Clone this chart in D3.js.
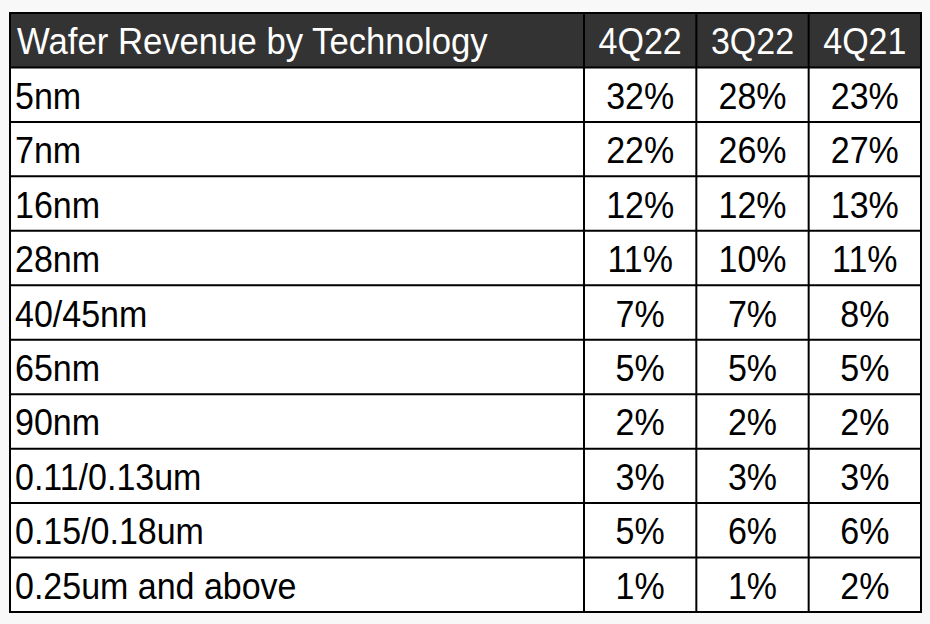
<!DOCTYPE html>
<html><head><meta charset="utf-8">
<script src="https://cdn.jsdelivr.net/npm/d3@7"></script>
<style>html,body{margin:0;padding:0;background:#f8f8f8;}svg{display:block;}</style>
</head><body><svg id="c" width="930" height="624"></svg>
<script>
const title = "Wafer Revenue by Technology";
const quarters = ["4Q22", "3Q22", "4Q21"];
const technologies = ["5nm","7nm","16nm","28nm","40/45nm","65nm","90nm","0.11/0.13um","0.15/0.18um","0.25um and above"];
const q4_22 = [32,22,12,11,7,5,2,3,5,1];
const q3_22 = [28,26,12,10,7,5,2,3,6,1];
const q4_21 = [23,27,13,11,8,5,2,3,6,2];
const series = [q4_22, q3_22, q4_21];

(function(){
const svg = d3.select("#c");
const L = 10, R = 921, T = 13, B = 612, labelW = 574;
const rows = ["__header__"].concat(technologies);
const y = d3.scaleBand().domain(rows).range([T, B]);
const xc = d3.scaleBand().domain(quarters).range([L + labelW, R]);
const font = "'Liberation Sans', Arial, Helvetica, sans-serif";
const fs = 34, fsT = 34.7, sy = 1.06, off = 14;
const tf = (x, yy) => `translate(${x},${yy}) scale(1,${sy})`;

svg.append("rect").attr("x", L).attr("y", y("__header__")).attr("width", R-L).attr("height", y.bandwidth()).attr("fill", "#333333");
svg.append("rect").attr("x", L).attr("y", y(technologies[0])).attr("width", R-L).attr("height", B - y(technologies[0])).attr("fill", "#ffffff");

const hy = y("__header__") + y.bandwidth()/2 + off;
svg.append("text").attr("transform", tf(L + 7, hy))
  .attr("font-family", font).attr("font-size", fsT).attr("fill", "#fff").text(title);
svg.selectAll("text.hq").data(quarters).join("text").attr("class","hq")
  .attr("transform", d => tf(xc(d) + xc.bandwidth()/2, hy))
  .attr("text-anchor","middle").attr("font-family", font).attr("font-size", fs).attr("fill","#fff").text(d => d);

svg.selectAll("text.lab").data(technologies).join("text").attr("class","lab")
  .attr("transform", d => tf(L + 5, y(d) + y.bandwidth()/2 + off))
  .attr("font-family", font).attr("font-size", fs).attr("fill","#000").text(d => d);

quarters.forEach((q, qi) => {
  svg.selectAll("text.v"+qi).data(technologies).join("text").attr("class","v"+qi)
    .attr("transform", d => tf(xc(q) + xc.bandwidth()/2, y(d) + y.bandwidth()/2 + off))
    .attr("text-anchor","middle").attr("font-family", font).attr("font-size", fs).attr("fill","#000")
    .text((d,i) => series[qi][i] + "%");
});

svg.selectAll("line.h").data(technologies).join("line").attr("class","h")
  .attr("x1", L).attr("x2", R).attr("y1", d => y(d)).attr("y2", d => y(d))
  .attr("stroke", "#000").attr("stroke-width", 2);
svg.selectAll("line.vv").data(quarters).join("line").attr("class","vv")
  .attr("x1", d => xc(d)).attr("x2", d => xc(d)).attr("y1", T).attr("y2", B)
  .attr("stroke", "#000").attr("stroke-width", 2);
svg.append("rect").attr("x", L).attr("y", T).attr("width", R-L).attr("height", B-T)
  .attr("fill","none").attr("stroke","#000").attr("stroke-width", 2);
})();
</script></body></html>
